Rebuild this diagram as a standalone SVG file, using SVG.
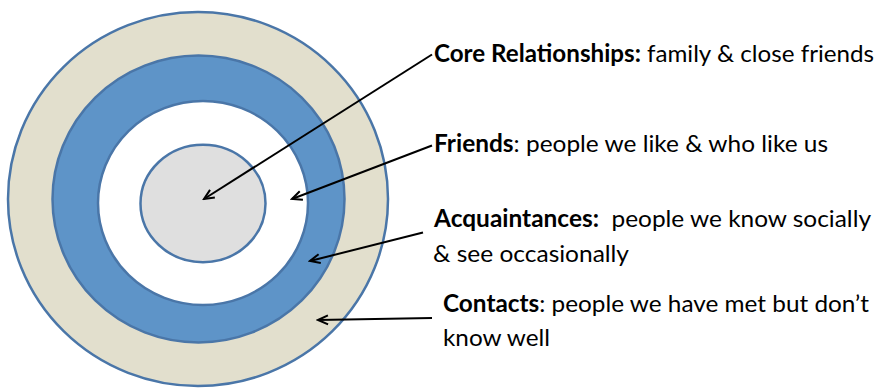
<svg xmlns="http://www.w3.org/2000/svg" width="880" height="388" viewBox="0 0 880 388">
<style>
.ring{stroke:#4a76a8;stroke-width:2.5}
.lbl{font-family:Lato,"Open Sans","Liberation Sans",sans-serif;font-size:24px;fill:#000}
.b{font-weight:bold}
.con{stroke:#000;stroke-width:2;fill:none}
</style>
<defs>
<marker id="arr" markerUnits="userSpaceOnUse" markerWidth="14" markerHeight="14" viewBox="-12 -7 14 14" refX="0" refY="0" orient="auto">
<path d="M -10 -4.5 L 0 0 L -10 4.5" fill="none" stroke="#000" stroke-width="2" stroke-linejoin="miter"/>
</marker>
</defs>
<rect width="880" height="388" fill="#fff"/>
<g id="contacts-ring"><ellipse class="ring" cx="198" cy="199" rx="190" ry="187" fill="#e2dfcd"/></g>
<g id="acquaintances-ring"><ellipse class="ring" cx="198.5" cy="199" rx="146" ry="143.5" fill="#5e94c8"/></g>
<g id="friends-ring"><ellipse class="ring" cx="203" cy="203" rx="105" ry="102" fill="#ffffff"/></g>
<g id="core-circle"><ellipse class="ring" cx="203" cy="203.5" rx="62.5" ry="58.7" fill="#dfdfdf"/></g>
<g id="connectors">
<line class="con" x1="432" y1="54.5" x2="204" y2="199" marker-end="url(#arr)"/>
<line class="con" x1="432" y1="145.5" x2="292" y2="199" marker-end="url(#arr)"/>
<line class="con" x1="423" y1="232.5" x2="310" y2="261" marker-end="url(#arr)"/>
<line class="con" x1="432" y1="318" x2="318" y2="320" marker-end="url(#arr)"/>
</g>
<g id="label-core"><text class="lbl" x="434" y="62" textLength="440" lengthAdjust="spacingAndGlyphs"><tspan class="b">Core Relationships:</tspan> family &amp; close friends</text></g>
<g id="label-friends"><text class="lbl" x="434" y="152" textLength="394" lengthAdjust="spacingAndGlyphs"><tspan class="b">Friends</tspan>: people we like &amp; who like us</text></g>
<g id="label-acquaintances"><text class="lbl" x="434" y="227" textLength="437" lengthAdjust="spacingAndGlyphs" xml:space="preserve"><tspan class="b">Acquaintances:</tspan>  people we know socially</text>
<text class="lbl" x="433" y="262" textLength="196" lengthAdjust="spacingAndGlyphs">&amp; see occasionally</text></g>
<g id="label-contacts"><text class="lbl" x="443" y="312" textLength="426" lengthAdjust="spacingAndGlyphs"><tspan class="b">Contacts</tspan>: people we have met but don’t</text>
<text class="lbl" x="443" y="346" textLength="107" lengthAdjust="spacingAndGlyphs">know well</text></g>
</svg>
